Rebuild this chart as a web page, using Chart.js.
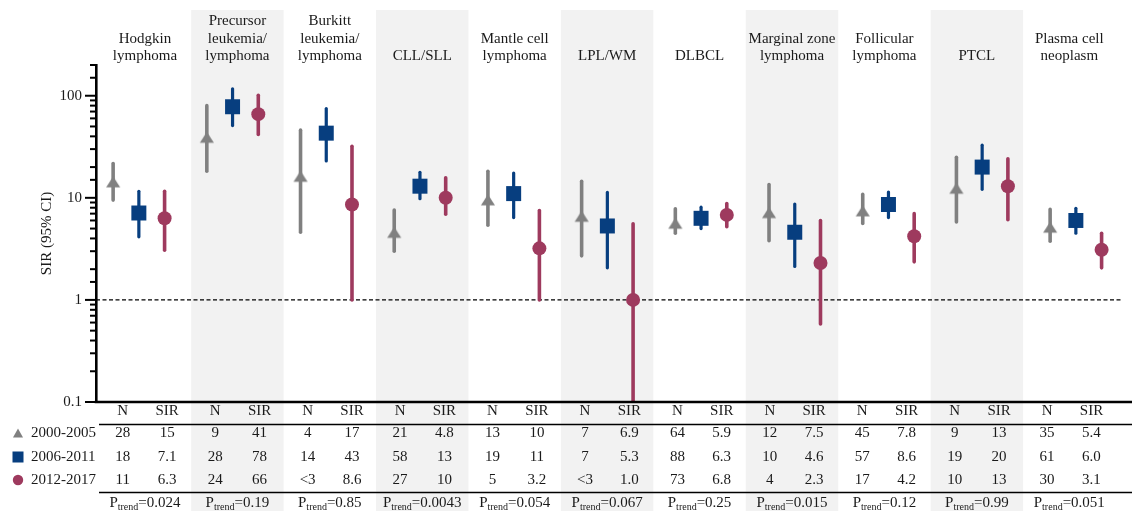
<!DOCTYPE html>
<html><head><meta charset="utf-8">
<script src="https://cdn.jsdelivr.net/npm/chart.js@4.4.1/dist/chart.umd.min.js"></script>
<style>html,body{margin:0;padding:0;background:#fff}#wrap{position:relative;width:1132px;height:511px}</style>
</head><body><div id="wrap"><canvas id="c"></canvas></div>
<script>
const categories = [
  ['Hodgkin','lymphoma'],
  ['Precursor','leukemia/','lymphoma'],
  ['Burkitt','leukemia/','lymphoma'],
  ['CLL/SLL'],
  ['Mantle cell','lymphoma'],
  ['LPL/WM'],
  ['DLBCL'],
  ['Marginal zone','lymphoma'],
  ['Follicular','lymphoma'],
  ['PTCL'],
  ['Plasma cell','neoplasm']
];
const periods = ['2000-2005','2006-2011','2012-2017'];

const sir2000 = [15, 41, 17, 4.8, 10, 6.9, 5.9, 7.5, 7.8, 13, 5.4];
const lo2000  = [9.5, 18.2, 4.6, 3.0, 5.4, 2.7, 4.5, 3.8, 5.6, 5.8, 3.75];
const hi2000  = [21.7, 80, 46, 7.6, 18.2, 14.5, 7.8, 13.5, 10.8, 25, 7.7];
const n2000   = ['28','9','4','21','13','7','64','12','45','9','35'];

const sir2006 = [7.1, 78, 43, 13, 11, 5.3, 6.3, 4.6, 8.6, 20, 6.0];
const lo2006  = [4.15, 51, 23, 9.8, 6.4, 2.06, 5.0, 2.13, 6.4, 12.1, 4.5];
const hi2006  = [11.6, 117, 75, 17.8, 17.5, 11.3, 8.1, 8.7, 11.4, 32.8, 7.9];
const n2006   = ['18','28','14','58','19','7','88','10','57','19','61'];

const sir2012 = [6.3, 66, 8.6, 10, 3.2, 1.0, 6.8, 2.3, 4.2, 13, 3.1];
const lo2012  = [3.06, 41.7, 1.0, 6.9, 1.0, 0.1, 5.2, 0.58, 2.36, 6.1, 2.06];
const hi2012  = [11.6, 101, 32, 15.7, 7.5, 5.56, 8.8, 6.0, 7.0, 24.1, 4.5];
const n2012   = ['11','24','<3','27','5','<3','73','4','17','10','30'];

const pTrend = ['0.024','0.19','0.85','0.0043','0.054','0.067','0.25','0.015','0.12','0.99','0.051'];
const yTickLabels = [0.1, 1, 10, 100];
const yTitle = 'SIR (95% CI)';

// ---- styles ----
const FONT = "'Liberation Serif', 'Times New Roman', serif";
const TXT = '#1a1a1a';
const COLORS = ['#808080', '#073e7f', '#9e3a5e'];
const BAR_W = [3.6, 3.2, 3.6];
const OFFS = [-0.2746, 0, 0.2746];

function triCanvas(color, cw, ch, w, apex, base) {
  const c = document.createElement('canvas');
  c.width = cw; c.height = ch;
  const g = c.getContext('2d');
  g.fillStyle = color;
  g.beginPath();
  g.moveTo(cw/2, apex);
  g.lineTo(cw/2 + w/2, base);
  g.lineTo(cw/2 - w/2, base);
  g.closePath();
  g.fill();
  return c;
}
const triImg = triCanvas(COLORS[0], 16, 22, 14, 7.5, 18.5);

const sirs = [sir2000, sir2006, sir2012];
const los = [lo2000, lo2006, lo2012];
const his = [hi2000, hi2006, hi2012];
const ns = [n2000, n2006, n2012];

function fmt(v) { return v < 10 ? v.toFixed(1) : String(Math.round(v)); }
function isMajor(v) { const l = Math.log10(v); return Math.abs(l - Math.round(l)) < 1e-6; }

const datasets = sirs.map((arr, k) => ({
  label: periods[k],
  type: 'scatter',
  xAxisID: 'x', yAxisID: 'y',
  data: arr.map((v, i) => ({x: i + OFFS[k], y: v})),
  backgroundColor: COLORS[k],
  borderColor: COLORS[k],
  borderWidth: 0,
  pointBorderWidth: 0,
  pointStyle: k === 0 ? triImg : (k === 1 ? 'rect' : 'circle'),
  pointRadius: k === 0 ? 8 : (k === 1 ? 10.6 : 7),
  pointHoverRadius: k === 0 ? 8 : (k === 1 ? 10.6 : 7),
  clip: false
}));

const plugin = {
  id: 'forest',
  beforeDraw(chart) {
    const {ctx, chartArea, scales: {xb, y}} = chart;
    ctx.save();
    // grey bands
    ctx.fillStyle = '#f2f2f2';
    categories.forEach((c, i) => {
      if (i % 2 === 1) {
        const l = xb.getPixelForValue(i - 0.5), r = xb.getPixelForValue(i + 0.5);
        ctx.fillRect(l, 10, r - l, chart.height - 10);
      }
    });
    // category headers
    ctx.fillStyle = TXT;
    ctx.font = '15px ' + FONT;
    ctx.textAlign = 'center';
    ctx.textBaseline = 'alphabetic';
    categories.forEach((lines, i) => {
      const cx = xb.getPixelForValue(i);
      const n = lines.length;
      lines.forEach((t, j) => {
        ctx.fillText(t, cx, 60 - (n - 1 - j) * 17.5);
      });
    });
    // reference dashed line at 1
    const y1 = y.getPixelForValue(1);
    ctx.strokeStyle = '#000';
    ctx.lineWidth = 1.2;
    ctx.setLineDash([4, 2.5]);
    ctx.beginPath();
    ctx.moveTo(chartArea.left, y1);
    ctx.lineTo(chartArea.right, y1);
    ctx.stroke();
    ctx.setLineDash([]);
    ctx.restore();
  },
  beforeDatasetsDraw(chart) {
    const {ctx, chartArea, scales: {y}} = chart;
    ctx.save();
    ctx.beginPath();
    ctx.rect(chartArea.left, chartArea.top - 2, chartArea.right - chartArea.left, chartArea.bottom - chartArea.top + 2);
    ctx.clip();
    ctx.lineCap = 'round';
    for (let k = 0; k < 3; k++) {
      const meta = chart.getDatasetMeta(k);
      ctx.strokeStyle = COLORS[k];
      ctx.lineWidth = BAR_W[k];
      meta.data.forEach((pt, i) => {
        ctx.beginPath();
        ctx.moveTo(pt.x, y.getPixelForValue(los[k][i]));
        ctx.lineTo(pt.x, y.getPixelForValue(his[k][i]));
        ctx.stroke();
      });
    }
    ctx.restore();
  },
  afterDraw(chart) {
    const {ctx, chartArea, scales: {xb, y}} = chart;
    ctx.save();
    // x axis line
    ctx.strokeStyle = '#000';
    ctx.lineWidth = 2.6;
    ctx.beginPath();
    ctx.moveTo(chartArea.left - 1.3, chartArea.bottom);
    ctx.lineTo(chart.width, chartArea.bottom);
    ctx.stroke();
    // y tick marks
    ctx.lineWidth = 2;
    y.ticks.forEach(t => {
      const py = y.getPixelForValue(t.value);
      const len = isMajor(t.value) ? 11 : 6;
      ctx.beginPath();
      ctx.moveTo(chartArea.left - len, py);
      ctx.lineTo(chartArea.left, py);
      ctx.stroke();
    });
    // y title
    ctx.fillStyle = TXT;
    ctx.font = '15px ' + FONT;
    ctx.translate(47.5, (chartArea.top + chartArea.bottom) / 2);
    ctx.rotate(-Math.PI / 2);
    ctx.textAlign = 'center';
    ctx.textBaseline = 'middle';
    ctx.fillText(yTitle, 0, 0);
    ctx.setTransform(1, 0, 0, 1, 0, 0);

    // table
    const rowY = [433.5, 457, 480];
    ctx.font = '15px ' + FONT;
    ctx.textAlign = 'center';
    ctx.textBaseline = 'middle';
    categories.forEach((c, i) => {
      const nx = xb.getPixelForValue(i - 0.24), sx = xb.getPixelForValue(i + 0.24);
      ctx.fillText('N', nx, 411.5);
      ctx.fillText('SIR', sx, 411.5);
      for (let k = 0; k < 3; k++) {
        ctx.fillText(ns[k][i], nx, rowY[k]);
        ctx.fillText(fmt(sirs[k][i]), sx, rowY[k]);
      }
    });
    // table lines
    ctx.strokeStyle = '#000';
    ctx.lineWidth = 1.5;
    [424.5, 492.5].forEach(ly => {
      ctx.beginPath();
      ctx.moveTo(99, ly);
      ctx.lineTo(chart.width, ly);
      ctx.stroke();
    });
    // legend in table
    ctx.fillStyle = COLORS[0];
    ctx.beginPath();
    ctx.moveTo(18, 428.5); ctx.lineTo(23, 437.5); ctx.lineTo(13, 437.5); ctx.closePath(); ctx.fill();
    ctx.fillStyle = COLORS[1];
    ctx.fillRect(12.5, 451.5, 11, 11);
    ctx.fillStyle = COLORS[2];
    ctx.beginPath(); ctx.arc(18, 480, 5.2, 0, Math.PI * 2); ctx.fill();
    ctx.fillStyle = TXT;
    ctx.textAlign = 'left';
    periods.forEach((p, k) => ctx.fillText(p, 31, rowY[k]));
    // P trend
    ctx.textBaseline = 'alphabetic';
    categories.forEach((c, i) => {
      const cx = xb.getPixelForValue(i);
      const base = 507;
      ctx.font = '15px ' + FONT;
      const wP = ctx.measureText('P').width;
      const rest = '=' + pTrend[i];
      const wR = ctx.measureText(rest).width;
      ctx.font = '10px ' + FONT;
      const wS = ctx.measureText('trend').width;
      let x0 = cx - (wP + wS + wR) / 2;
      ctx.textAlign = 'left';
      ctx.font = '15px ' + FONT;
      ctx.fillText('P', x0, base);
      ctx.font = '10px ' + FONT;
      ctx.fillText('trend', x0 + wP, base + 3);
      ctx.font = '15px ' + FONT;
      ctx.fillText(rest, x0 + wP + wS, base);
    });
    ctx.restore();
  }
};

new Chart(document.getElementById('c'), {
  type: 'scatter',
  data: { datasets },
  options: {
    responsive: true,
    maintainAspectRatio: false,
    animation: false,
    events: [],
    layout: { padding: { top: 65, bottom: 109, left: 0, right: 0 } },
    plugins: { legend: { display: false }, tooltip: { enabled: false } },
    scales: {
      x: { type: 'linear', display: false, min: -0.4574, max: 10.486 },
      xb: { type: 'linear', display: false, min: -0.5296, max: 10.5636 },
      y: {
        type: 'logarithmic',
        position: 'left',
        min: 0.1, max: 200,
        afterFit(scale) { scale.width = 96; },
        grid: { display: false, drawTicks: false },
        border: { display: true, color: '#000', width: 2.6 },
        ticks: {
          autoSkip: false,
          padding: 14,
          color: TXT,
          font: { family: FONT, size: 15 },
          callback(v) {
            const m = yTickLabels.find(t => Math.abs(t - v) / t < 1e-6);
            return m !== undefined ? String(m) : '';
          }
        }
      }
    }
  },
  plugins: [plugin]
});
</script>
</body></html>
